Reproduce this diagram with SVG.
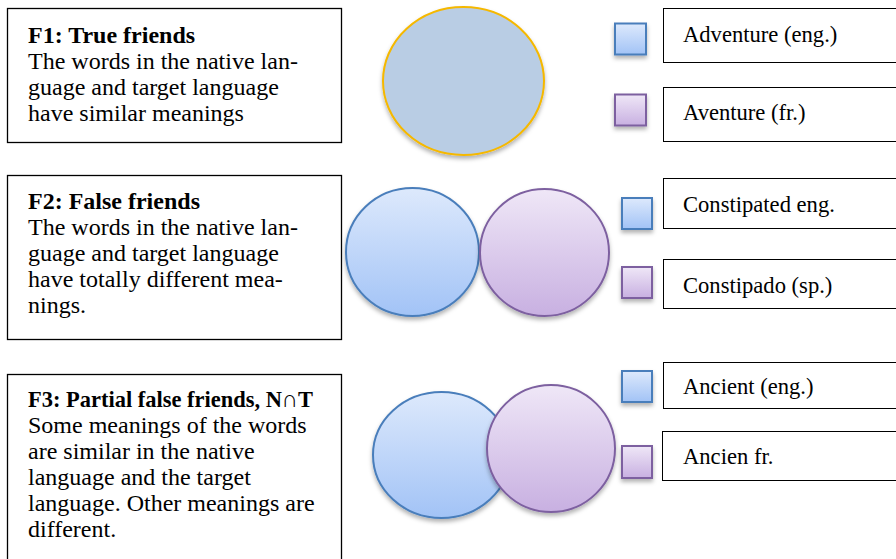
<svg xmlns="http://www.w3.org/2000/svg" width="896" height="559" viewBox="0 0 896 559">
<defs>
<linearGradient id="gBlue" x1="0" y1="0" x2="0" y2="1">
<stop offset="0" stop-color="#dde9fc"/>
<stop offset="1" stop-color="#a2c3f6"/>
</linearGradient>
<linearGradient id="gPurple" x1="0" y1="0" x2="0" y2="1">
<stop offset="0" stop-color="#efe7f7"/>
<stop offset="1" stop-color="#c8b0e1"/>
</linearGradient>
<filter id="sh" x="-20%" y="-20%" width="140%" height="150%">
<feDropShadow dx="0" dy="3" stdDeviation="2.2" flood-color="#000" flood-opacity="0.3"/>
</filter>
</defs>
<style>
.box{fill:#fff;stroke:#000;stroke-width:1.3}
.lbl{fill:#fff;stroke:#000;stroke-width:1}
.t{font-family:"Liberation Serif","Times New Roman",serif;font-size:24px;fill:#000}
.l{font-family:"Liberation Serif","Times New Roman",serif;font-size:22.6px;fill:#000}
.b{font-weight:bold}
.blue{fill:url(#gBlue);stroke:#4a7ebb;stroke-width:2;filter:url(#sh)}
.purple{fill:url(#gPurple);stroke:#7d60a0;stroke-width:2;filter:url(#sh)}
</style>
<rect width="896" height="559" fill="#fff"/>

<g id="f1-text">
<rect class="box" x="7.5" y="8.5" width="334" height="134"/>
<text class="t"><tspan class="b" x="28" y="43">F1: True friends</tspan><tspan x="28" y="69">The words in the native lan-</tspan><tspan x="28" y="95">guage and target language</tspan><tspan x="28" y="121">have similar meanings</tspan></text>
</g>
<g id="f2-text">
<rect class="box" x="7.5" y="175.5" width="334" height="164"/>
<text class="t"><tspan class="b" x="28" y="209">F2: False friends</tspan><tspan x="28" y="235">The words in the native lan-</tspan><tspan x="28" y="261">guage and target language</tspan><tspan x="28" y="287">have totally different mea-</tspan><tspan x="28" y="313">nings.</tspan></text>
</g>
<g id="f3-text">
<rect class="box" x="7.5" y="374.5" width="334" height="200"/>
<text class="t b" x="28" y="407" textLength="285" lengthAdjust="spacingAndGlyphs">F3: Partial false friends, N∩T</text>
<text class="t"><tspan x="28" y="433">Some meanings of the words</tspan><tspan x="28" y="459">are similar in the native</tspan><tspan x="28" y="485">language and the target</tspan><tspan x="28" y="511">language. Other meanings are</tspan><tspan x="28" y="537">different.</tspan></text>
</g>

<g id="f1-circle">
<ellipse cx="463.5" cy="81" rx="80.5" ry="74" fill="#b9cde4" stroke="#f5b800" stroke-width="2" filter="url(#sh)"/>
</g>
<g id="f2-circles">
<ellipse class="blue" cx="412.5" cy="252" rx="66.5" ry="64"/>
<ellipse class="purple" cx="544.5" cy="252.5" rx="64.5" ry="63.5"/>
</g>
<g id="f3-circles">
<ellipse class="blue" cx="441.5" cy="455" rx="68.5" ry="63"/>
<ellipse class="purple" cx="551" cy="448.5" rx="64" ry="63.5"/>
</g>

<g id="legend-f1">
<rect class="blue" x="615" y="23.5" width="31" height="31"/>
<rect class="purple" x="615" y="94.5" width="31" height="31"/>
<rect class="lbl" x="663.5" y="8.5" width="240" height="54"/>
<rect class="lbl" x="663.5" y="87.5" width="240" height="54"/>
<text class="l" x="683" y="42">Adventure (eng.)</text>
<text class="l" x="683" y="120">Aventure (fr.)</text>
</g>
<g id="legend-f2">
<rect class="blue" x="622" y="198" width="30" height="31"/>
<rect class="purple" x="622" y="267" width="30" height="31"/>
<rect class="lbl" x="663.5" y="178.5" width="240" height="50"/>
<rect class="lbl" x="663.5" y="259.5" width="240" height="49"/>
<text class="l" x="683" y="212">Constipated eng.</text>
<text class="l" x="683" y="293">Constipado (sp.)</text>
</g>
<g id="legend-f3">
<rect class="blue" x="622" y="371" width="30" height="31"/>
<rect class="purple" x="622" y="446" width="30" height="32"/>
<rect class="lbl" x="663.5" y="362.5" width="240" height="46"/>
<rect class="lbl" x="662.5" y="431.5" width="240" height="49"/>
<text class="l" x="683" y="394">Ancient (eng.)</text>
<text class="l" x="683" y="464">Ancien fr.</text>
</g>
<g id="connectors"/>
</svg>
